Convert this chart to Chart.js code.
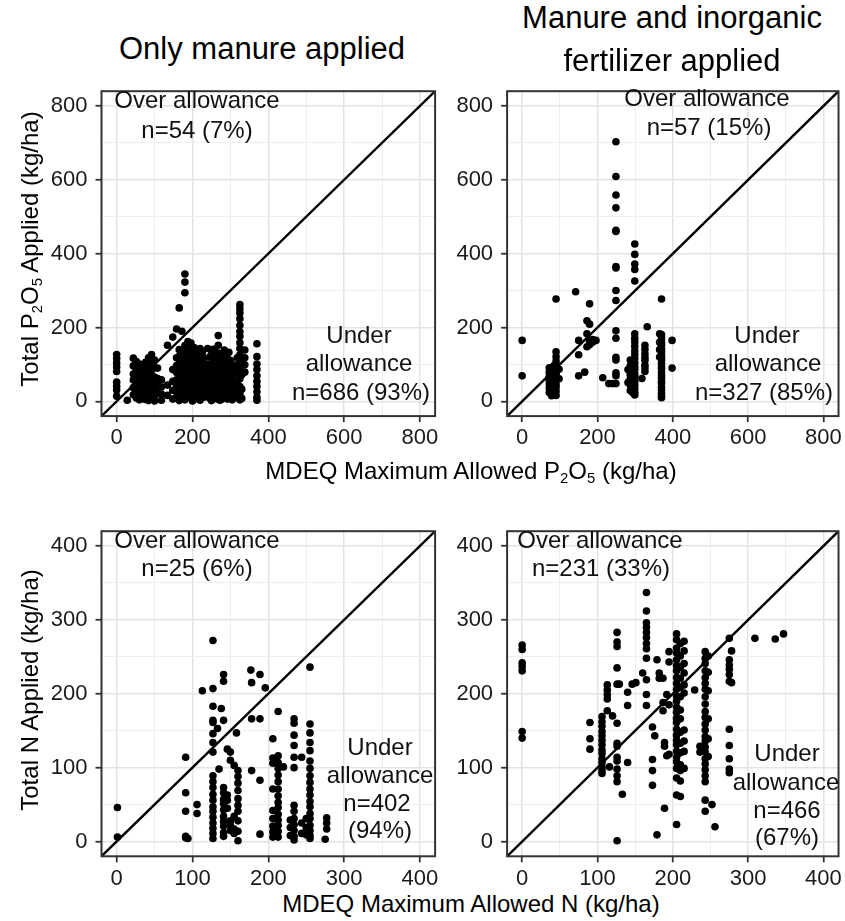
<!DOCTYPE html>
<html>
<head>
<meta charset="utf-8">
<script src="https://cdn.jsdelivr.net/npm/chart.js@4.4.1/dist/chart.umd.min.js"></script>
<style>
html,body{margin:0;padding:0;background:#fff;overflow:hidden;}
#wrap{position:relative;width:845px;height:921px;font-family:"Liberation Sans",Arial,Helvetica,sans-serif;color:#000;}
canvas{position:absolute;}
.t{position:absolute;white-space:nowrap;transform:translate(-50%,-50%);line-height:1;}
.pt{font-size:31px;}
.at{font-size:24px;}
.an{font-size:24px;color:#111;}
.rot{transform:translate(-50%,-50%) rotate(-90deg);}
sub{font-size:0.62em;vertical-align:-0.28em;line-height:0;}
</style>
</head>
<body>
<div id="wrap">
  <canvas id="cTL"></canvas>
  <canvas id="cTR"></canvas>
  <canvas id="cBL"></canvas>
  <canvas id="cBR"></canvas>

  <div class="t pt" style="left:262px;top:48px;">Only manure applied</div>
  <div class="t pt" style="left:672px;top:17px;">Manure and inorganic</div>
  <div class="t pt" style="left:672px;top:60px;">fertilizer applied</div>

  <div class="t at rot" style="left:30px;top:249px;">Total P<sub>2</sub>O<sub>5</sub> Applied (kg/ha)</div>
  <div class="t at rot" style="left:30px;top:690px;">Total N Applied (kg/ha)</div>
  <div class="t at" style="left:471px;top:471px;">MDEQ Maximum Allowed P<sub>2</sub>O<sub>5</sub> (kg/ha)</div>
  <div class="t at" style="left:471px;top:904px;">MDEQ Maximum Allowed N (kg/ha)</div>

  <div class="t an" style="left:197px;top:100px;">Over allowance</div>
  <div class="t an" style="left:197px;top:130px;">n=54 (7%)</div>
  <div class="t an" style="left:359px;top:335px;">Under</div>
  <div class="t an" style="left:359px;top:363px;">allowance</div>
  <div class="t an" style="left:361px;top:392px;">n=686 (93%)</div>

  <div class="t an" style="left:707px;top:98px;">Over allowance</div>
  <div class="t an" style="left:709px;top:127px;">n=57 (15%)</div>
  <div class="t an" style="left:767px;top:335px;">Under</div>
  <div class="t an" style="left:768px;top:363px;">allowance</div>
  <div class="t an" style="left:764px;top:392px;">n=327 (85%)</div>

  <div class="t an" style="left:197px;top:540px;">Over allowance</div>
  <div class="t an" style="left:197px;top:568px;">n=25 (6%)</div>
  <div class="t an" style="left:380px;top:747px;">Under</div>
  <div class="t an" style="left:380px;top:775px;">allowance</div>
  <div class="t an" style="left:377px;top:803px;">n=402</div>
  <div class="t an" style="left:380px;top:830px;">(94%)</div>

  <div class="t an" style="left:600px;top:540px;">Over allowance</div>
  <div class="t an" style="left:601px;top:568px;">n=231 (33%)</div>
  <div class="t an" style="left:787px;top:753px;">Under</div>
  <div class="t an" style="left:786px;top:782px;">allowance</div>
  <div class="t an" style="left:787px;top:810px;">n=466</div>
  <div class="t an" style="left:787px;top:837px;">(67%)</div>
</div>
<script>
// ---------- DATA ----------
// Tick labels
const pTicks = [0, 200, 400, 600, 800];
const nTicks = [0, 100, 200, 300, 400];

// Top-left: Only manure applied, P2O5 (x = MDEQ max allowed, y = total applied)
const tlX = [0, 28, 44, 52, 60, 68, 76, 84, 92, 100, 108, 118, 134, 148, 158, 165, 172, 180, 185, 188, 196, 200, 204, 212, 216, 220, 226, 230, 240, 245, 250, 255, 260, 264, 268, 272, 276, 284, 288, 292, 296, 300, 305, 312, 318, 325, 330, 338, 370];
const tlY = [
  [127, 116, 104, 93, 81, 52, 41, 31, 14],
  [3],
  [117, 96, 74, 58, 37, 18],
  [108, 87, 66, 49, 28, 9],
  [101, 82, 71, 54, 44, 24, 4],
  [93, 76, 61, 47, 33, 19, 7],
  [106, 88, 69, 63, 51, 38, 22, 5],
  [118, 95, 79, 57, 42, 27, 13, 2],
  [127, 109, 84, 70, 55, 41, 26, 10],
  [112, 91, 66, 50, 31, 15, 1],
  [90, 62, 43, 22],
  [58, 39, 20, 3],
  [152, 44, 16],
  [174, 86, 54, 30, 6],
  [196, 118, 97, 78, 58, 44, 28, 12],
  [253, 140, 122, 101, 82, 61, 47, 31, 16, 2],
  [190, 131, 110, 94, 74, 50, 26, 8],
  [345, 323, 294, 151, 126, 104, 86, 69, 56, 39, 21, 4],
  [143, 112, 92, 66, 47, 27, 10],
  [162, 139, 116, 96, 79, 60, 35, 18],
  [158, 135, 121, 99, 88, 72, 59, 45, 30, 12],
  [128, 106, 82, 64, 38, 20, 1],
  [146, 126, 111, 91, 76, 55, 41, 24, 8],
  [132, 106, 86, 64, 51, 29, 14],
  [117, 94, 72, 45, 23, 6],
  [143, 122, 96, 77, 56, 36, 19, 3],
  [133, 108, 84, 61, 40, 14],
  [118, 92, 71, 49, 30, 11],
  [143, 101, 79, 60, 44, 25],
  [120, 88, 67, 35, 9],
  [127, 98, 82, 63, 38, 17, 2],
  [141, 108, 73, 51, 24],
  [134, 112, 91, 70, 52, 33, 15],
  [122, 97, 78, 43, 7],
  [178, 152, 131, 109, 89, 71, 50, 34, 14],
  [118, 93, 64, 27, 3],
  [124, 100, 81, 59, 40, 21, 5],
  [139, 116, 94, 76, 54, 36, 16],
  [103, 82, 48, 25],
  [128, 107, 86, 62, 41, 20, 6],
  [133, 96, 71, 30, 12],
  [111, 84, 61, 39, 19],
  [92, 66, 45, 4],
  [98, 74, 52, 30, 11],
  [118, 88, 49, 26],
  [262, 251, 239, 224, 206, 189, 176, 159, 143, 126, 104, 86, 61, 40, 21, 4],
  [112, 72, 33, 8],
  [139, 118, 99, 79],
  [156, 121, 101, 86, 69, 54, 41, 26, 11, 3]
];

// Top-right: Manure and inorganic fertilizer applied, P2O5
const trX = [0, 72, 78, 84, 90, 98, 142, 150, 166, 172, 179, 187, 196, 214, 230, 240, 249, 281, 287, 294, 299, 318, 326, 332, 365, 370, 398];
const trY = [
  [165, 69],
  [91, 79, 68, 57, 47, 36, 24],
  [86, 73, 62, 50, 33, 21, 15],
  [96, 81, 64, 52, 38, 26, 18],
  [277, 134, 121, 109, 99, 88, 77, 71, 58, 47, 39, 28, 16],
  [87, 61],
  [297],
  [165, 126, 69],
  [79],
  [218, 183, 148],
  [264, 209, 163, 153],
  [167, 160],
  [165],
  [64],
  [48],
  [48],
  [703, 609, 559, 524, 463, 460, 365, 361, 300, 273, 191, 171, 119, 112, 77, 69, 48],
  [51, 86],
  [112, 96, 73, 61, 44, 29],
  [108, 87, 70, 56, 38, 23],
  [426, 398, 372, 357, 326, 183, 171, 161, 149, 137, 127, 116, 104, 93, 86, 74, 66, 53, 44, 34, 24, 17],
  [62],
  [152, 141, 129, 119, 111, 98, 90, 81],
  [202],
  [183, 160, 140, 120],
  [277, 181, 174, 166, 158, 152, 142, 135, 126, 118, 112, 103, 94, 88, 78, 70, 63, 54, 48, 38, 31, 22, 14, 10],
  [165, 90]
];

// Bottom-left: Only manure applied, N
const blX = [1, 91, 94, 106, 113, 127, 133, 135, 138, 141, 146, 150, 155, 158, 160, 177, 178, 189, 196, 206, 213, 220, 229, 234, 244, 250, 255, 275, 277];
const blY = [
  [46, 6],
  [114, 66, 41, 7, 5],
  [4],
  [50, 38],
  [204],
  [272, 207, 183, 164, 161, 146, 134, 121, 89, 81, 73, 64, 56, 47, 41, 33, 25, 18, 11, 4],
  [153],
  [98],
  [180],
  [226, 217, 164, 73, 66, 57, 51, 43, 34, 27, 21, 12, 7],
  [125, 63, 56, 45],
  [121, 110, 28, 22, 15],
  [103, 34, 17, 11],
  [147],
  [96, 88, 79, 69, 58, 49, 41, 28, 14, 1],
  [232],
  [215, 166, 96],
  [226, 166, 83, 10],
  [208],
  [139, 113, 106, 71, 42, 31, 21, 13, 6],
  [176, 116, 107, 99, 90, 81, 71, 62, 53, 46, 37, 29, 22, 14, 6],
  [101],
  [29, 19, 8],
  [166, 160, 144, 130, 114, 100, 49, 41, 31, 23, 15, 7, 2],
  [114, 25, 11],
  [31, 19, 9],
  [236, 159, 147, 134, 123, 109, 99, 89, 80, 71, 63, 54, 47, 38, 31, 22, 15, 8, 4],
  [3],
  [32, 25, 17]
];

// Bottom-right: Manure and inorganic fertilizer applied, N
const brX = [0, 90, 106, 113, 116, 120, 126, 129, 133, 140, 146, 151, 160, 165, 173, 176, 179, 182, 187, 189, 192, 195, 205, 210, 215, 229, 236, 243, 247, 252, 256, 275, 278, 309, 336, 347];
const brY = [
  [266, 260, 242, 237, 231, 149, 140],
  [161, 139, 125],
  [169, 162, 156, 149, 143, 137, 131, 124, 119, 112, 107, 101, 96, 92],
  [212, 205, 199, 193, 177],
  [101],
  [170],
  [283, 270, 264, 235, 213, 160, 133, 129, 114, 109, 98, 89, 81, 1],
  [213],
  [64],
  [202, 184, 107],
  [213],
  [215],
  [228],
  [337, 312, 296, 290, 283, 276, 268, 261, 248, 219, 199, 184],
  [155, 111, 96, 76],
  [143],
  [246, 9],
  [228, 221],
  [221, 188, 177],
  [134, 129, 45],
  [199, 116],
  [257, 243, 185, 118],
  [281, 273, 262, 255, 246, 238, 231, 222, 214, 206, 197, 190, 182, 175, 167, 161, 152, 144, 137, 131, 122, 114, 108, 99, 86, 63, 23],
  [268, 251, 236, 221, 209, 196, 178, 166, 148, 133, 120, 104, 96, 82, 61],
  [271, 258, 241, 228, 212, 201, 151, 136, 122, 99],
  [205],
  [129, 121],
  [257, 248, 241, 231, 222, 214, 206, 196, 186, 176, 168, 159, 151, 142, 136, 128, 121, 112, 105, 97, 89, 81, 56, 41],
  [251, 229, 204, 166, 139, 115],
  [50],
  [20],
  [275, 246, 239, 233, 226, 217, 152, 130, 112, 98, 93],
  [258, 215],
  [275],
  [274],
  [281]
];

// ---------- CHARTS ----------
const FONT = '"Liberation Sans", Arial, Helvetica, sans-serif';
Chart.defaults.font.family = FONT;
Chart.defaults.animation = false;

function toPoints(xs, ys) {
  const pts = [];
  xs.forEach((x, i) => ys[i].forEach(y => pts.push({x: x, y: y})));
  return pts;
}

const framePlugin = {
  id: 'frame',
  afterDatasetsDraw(chart) {
    const {ctx, chartArea: a} = chart;
    ctx.save();
    ctx.strokeStyle = '#333333';
    ctx.lineWidth = 2;
    ctx.strokeRect(a.left, a.top, a.right - a.left, a.bottom - a.top);
    ctx.restore();
  }
};

function axis(min, max, step, labels, isX, fitSize) {
  const major = v => labels.includes(v);
  return {
    type: 'linear',
    min: min, max: max,
    ticks: {
      stepSize: step,
      includeBounds: false,
      autoSkip: false,
      maxRotation: 0,
      color: '#1a1a1a',
      font: {size: 22, family: FONT},
      padding: isX ? 3 : 8,
      callback: v => major(v) ? String(v) : ''
    },
    grid: {
      color: c => (c.tick && major(c.tick.value)) ? '#E3E3E3' : '#EEEEEE',
      lineWidth: c => (c.tick && major(c.tick.value)) ? 1.5 : 1,
      drawTicks: true,
      tickLength: 6,
      tickWidth: 1.8,
      tickColor: c => (c.tick && major(c.tick.value)) ? '#333333' : 'rgba(0,0,0,0)'
    },
    border: {display: false},
    afterFit: s => { if (isX) s.height = fitSize; else s.width = fitSize; }
  };
}

function panel(id, box, area, xs, ys, min, max, step, labels) {
  const cv = document.getElementById(id);
  cv.width = box.w; cv.height = box.h;
  cv.style.left = box.x + 'px'; cv.style.top = box.y + 'px';
  cv.style.width = box.w + 'px'; cv.style.height = box.h + 'px';
  new Chart(cv, {
    type: 'scatter',
    data: {
      datasets: [
        {
          type: 'line',
          data: [{x: min, y: min}, {x: max, y: max}],
          borderColor: '#000',
          borderWidth: 2.4,
          pointRadius: 0,
          fill: false,
          order: 0
        },
        {
          data: toPoints(xs, ys),
          backgroundColor: '#000',
          borderWidth: 0,
          pointRadius: 3.8,
          pointHoverRadius: 3.8,
          order: 1
        }
      ]
    },
    options: {
      responsive: false,
      maintainAspectRatio: false,
      devicePixelRatio: 1,
      layout: {padding: {left: 0, top: area.t - box.y, right: box.x + box.w - area.r, bottom: 0}},
      plugins: {legend: {display: false}, tooltip: {enabled: false}},
      events: [],
      scales: {
        x: axis(min, max, step, labels, true, box.y + box.h - area.b),
        y: axis(min, max, step, labels, false, area.l - box.x)
      }
    },
    plugins: [framePlugin]
  });
}

panel('cTL', {x: 0, y: 70, w: 445, h: 395}, {l: 101.5, t: 82.3, r: 435.1, b: 416.1}, tlX, tlY, -40, 840, 100, pTicks);
panel('cTR', {x: 445, y: 70, w: 400, h: 395}, {l: 507.1, t: 82.3, r: 840.9, b: 416.1}, trX, trY, -40, 840, 100, pTicks);
panel('cBL', {x: 0, y: 510, w: 445, h: 380}, {l: 101.5, t: 523, r: 435.1, b: 856.3}, blX, blY, -20, 420, 50, nTicks);
panel('cBR', {x: 445, y: 510, w: 400, h: 380}, {l: 507.1, t: 523, r: 840.9, b: 856.3}, brX, brY, -20, 420, 50, nTicks);
</script>
</body>
</html>
